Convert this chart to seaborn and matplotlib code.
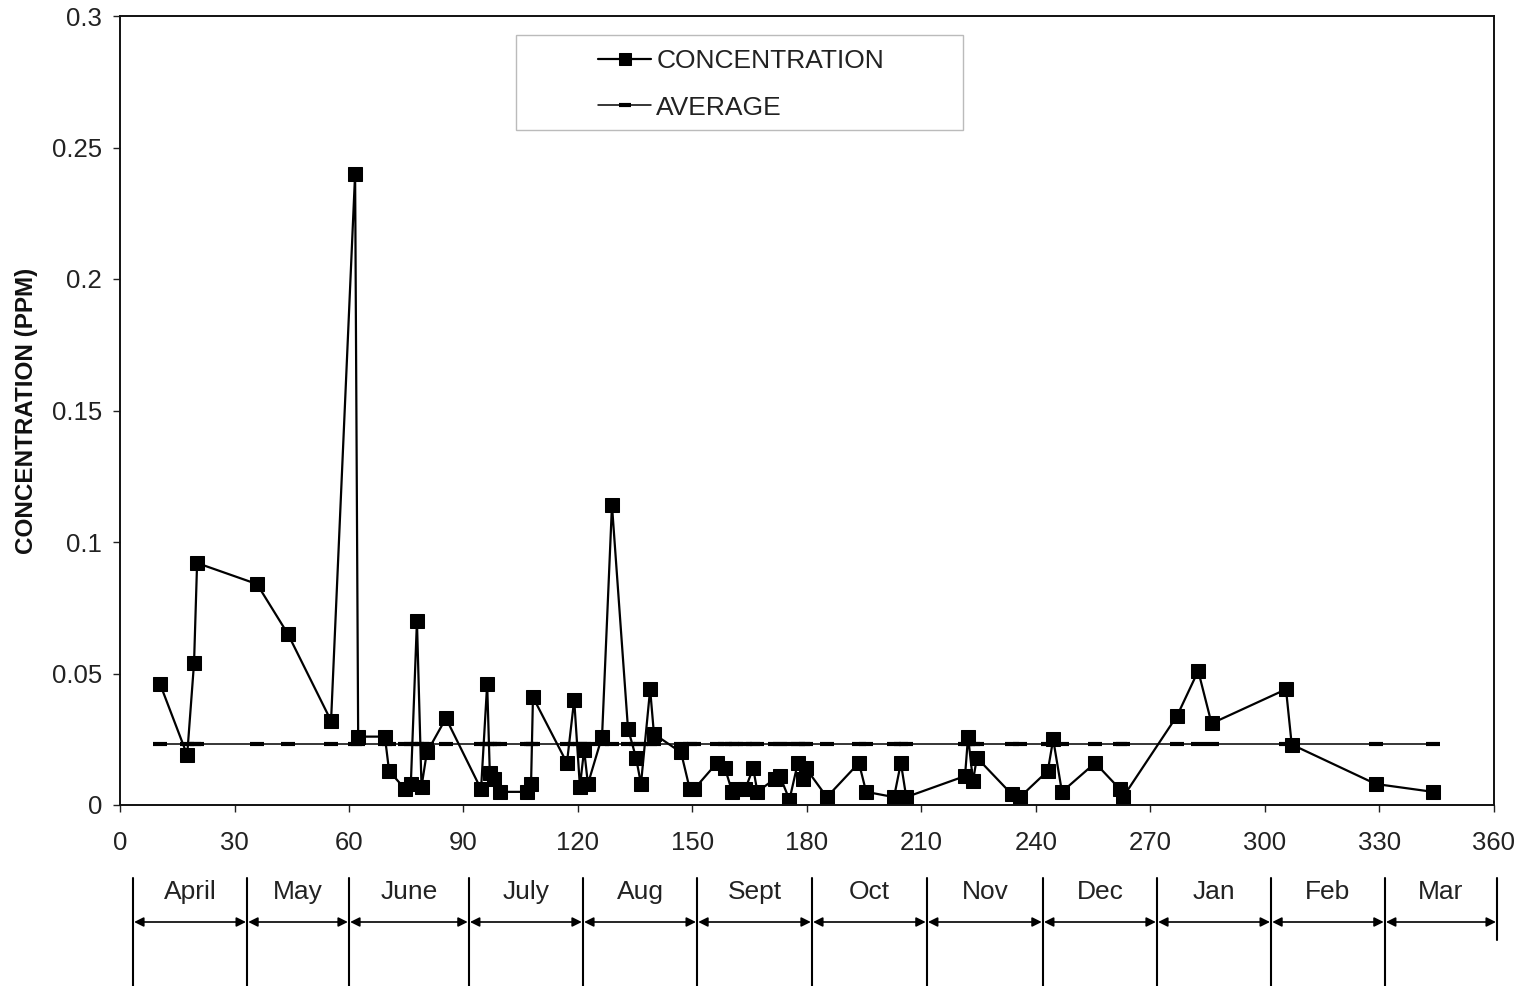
import matplotlib
matplotlib.use("Agg")
import matplotlib.pyplot as plt
import matplotlib.transforms as mtransforms
from matplotlib.patches import Rectangle
import seaborn as sns
import numpy as np

days = [10.5, 17.6, 19.4, 20.2, 35.9, 44.0, 55.3, 61.6, 62.4, 69.4, 70.5, 74.7, 76.2,
        77.8, 79.0, 80.4, 85.4, 94.6, 96.2, 96.9, 98.0, 99.6, 106.6, 107.7, 108.2,
        117.1, 119.0, 120.5, 121.6, 122.6, 126.3, 128.9, 133.1, 135.2, 136.5, 138.9,
        139.9, 147.0, 149.3, 150.4, 156.4, 158.5, 160.4, 161.5, 163.8, 165.9, 167.0,
        171.6, 172.9, 175.4, 177.6, 179.0, 179.7, 185.2, 193.6, 195.5, 202.8, 204.6,
        206.0, 221.4, 222.2, 223.5, 224.5, 233.7, 235.8, 243.1, 244.5, 246.8, 255.5,
        262.0, 262.8, 277.0, 282.5, 286.0, 305.5, 307.0, 329.0, 344.0]
concentration = [0.046, 0.019, 0.054, 0.092, 0.084, 0.065, 0.032, 0.240, 0.026, 0.026,
                 0.013, 0.006, 0.008, 0.070, 0.007, 0.020, 0.033, 0.006, 0.046, 0.012,
                 0.010, 0.005, 0.005, 0.008, 0.041, 0.016, 0.040, 0.007, 0.021, 0.008,
                 0.026, 0.114, 0.029, 0.018, 0.008, 0.044, 0.027, 0.020, 0.006, 0.006,
                 0.016, 0.014, 0.005, 0.006, 0.006, 0.014, 0.005, 0.010, 0.011, 0.002,
                 0.016, 0.010, 0.014, 0.003, 0.016, 0.005, 0.003, 0.016, 0.003, 0.011,
                 0.026, 0.009, 0.018, 0.004, 0.003, 0.013, 0.025, 0.005, 0.016, 0.006,
                 0.003, 0.034, 0.051, 0.031, 0.044, 0.023, 0.008, 0.005]
average_value = 0.0232
average = [average_value] * len(days)

x_ticks = [0, 30, 60, 90, 120, 150, 180, 210, 240, 270, 300, 330, 360]
y_ticks = [0, 0.05, 0.1, 0.15, 0.2, 0.25, 0.3]
y_tick_labels = ["0", "0.05", "0.1", "0.15", "0.2", "0.25", "0.3"]
months = ["April", "May", "June", "July", "Aug", "Sept", "Oct", "Nov", "Dec", "Jan", "Feb", "Mar"]
month_bounds = [3.4, 33.3, 60, 91.4, 121.3, 151.2, 181.3, 211.4, 241.8, 271.7, 301.6, 331.4, 360.8]

sns.set_style("white")
plt.rcParams["font.family"] = ["Liberation Sans", "DejaVu Sans"]

fig = plt.figure(figsize=(15.24, 9.86), dpi=100)
ax = fig.add_axes([120 / 1524, 1 - 805 / 986, 1374 / 1524, 789 / 986])

sns.lineplot(x=days, y=average, ax=ax, sort=False, estimator=None,
             color="black", linewidth=1.1, marker="_", markersize=10,
             markeredgewidth=3, markeredgecolor="black", label="AVERAGE")
sns.lineplot(x=days, y=concentration, ax=ax, sort=False, estimator=None,
             color="black", linewidth=1.6, marker="s", markersize=10,
             markeredgecolor="black", markerfacecolor="black", label="CONCENTRATION")

ax.set_xlim(0, 360)
ax.set_ylim(0, 0.3)
ax.set_xticks(x_ticks)
ax.set_xticklabels([str(t) for t in x_ticks], fontsize=18.5, color="#222222")
ax.set_yticks(y_ticks)
ax.set_yticklabels(y_tick_labels, fontsize=18.5, color="#222222")
ax.tick_params(axis="both", direction="out", length=5, width=1, colors="#222222",
               labelcolor="#222222", bottom=True, left=True)
ax.tick_params(axis="x", pad=14)
ax.tick_params(axis="y", pad=8)
for s in ax.spines.values():
    s.set_color("#111111")
    s.set_linewidth(1.4)
ax.set_ylabel("CONCENTRATION (PPM)", fontsize=17.5, fontweight="bold", labelpad=10,
              color="#111111")
ax.set_xlabel("")

# legend: frame drawn separately, content centred inside
ax.add_patch(Rectangle((0.288, (805 - 130) / 789), 0.3253, 95 / 789, transform=ax.transAxes,
                       facecolor="white", edgecolor="#bbbbbb", linewidth=1.0, zorder=4))
handles, labels = ax.get_legend_handles_labels()
order = [labels.index("CONCENTRATION"), labels.index("AVERAGE")]
leg = ax.legend([handles[i] for i in order], [labels[i] for i in order],
                loc="upper center", bbox_to_anchor=(0.452, (805 - 49) / 789),
                fontsize=19, frameon=False, borderpad=0, borderaxespad=0,
                handlelength=2.0, handletextpad=0.2, labelspacing=0.86,
                markerscale=0.8)
leg.set_zorder(5)
for t in leg.get_texts():
    t.set_color("#222222")

# month band below axis
trans = mtransforms.blended_transform_factory(ax.transData, ax.transAxes)
y_top = (805 - 878) / 789
y_bot = (805 - 986) / 789
y_arrow = (805 - 922) / 789
y_label = (805 - 892) / 789
for i, b in enumerate(month_bounds):
    yb = y_bot if i < len(month_bounds) - 1 else (805 - 940) / 789
    ax.plot([b, b], [y_top, yb], transform=trans, color="black", linewidth=1.5,
            clip_on=False)
for i, m in enumerate(months):
    a, b = month_bounds[i], month_bounds[i + 1]
    ax.annotate("", xy=(b - 0.3, y_arrow), xytext=(a + 0.3, y_arrow),
                xycoords=trans, textcoords=trans,
                arrowprops=dict(arrowstyle="<|-|>", color="black", lw=1.2,
                                mutation_scale=14, shrinkA=0, shrinkB=0),
                annotation_clip=False)
    ax.text((a + b) / 2, y_label, m, transform=trans, ha="center", va="center",
            fontsize=19, color="#222222", clip_on=False)

fig.savefig("out.png", dpi=100)
